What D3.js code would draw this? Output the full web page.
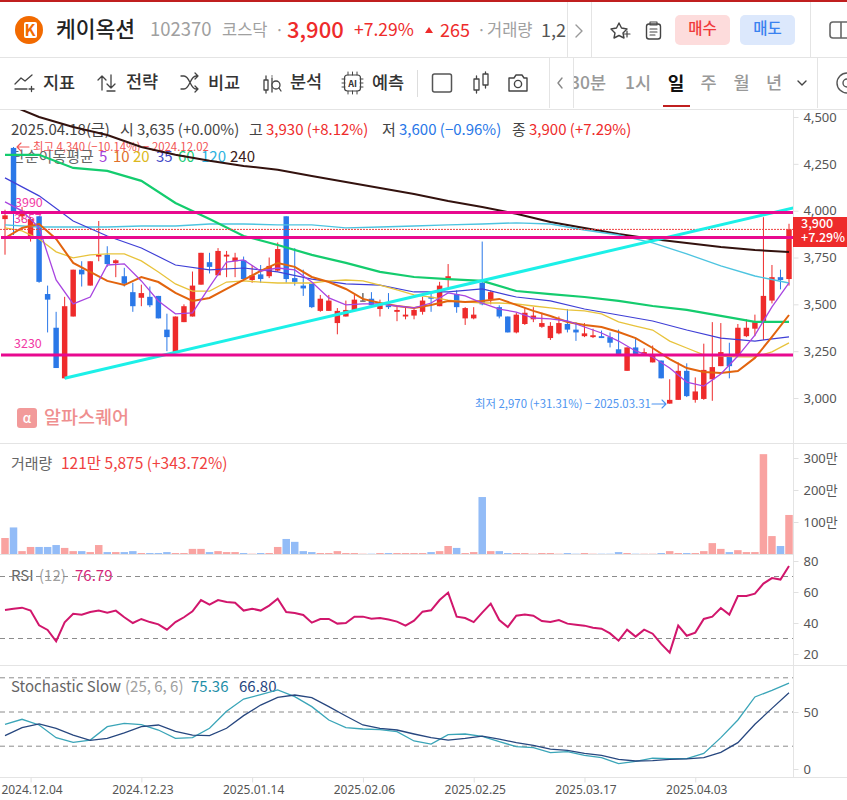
<!DOCTYPE html>
<html>
<head>
<meta charset="utf-8">
<script src="https://cdn.jsdelivr.net/npm/d3@7"></script>
<style>
  body { margin: 0; background: #fff; }
  svg { display: block; }
  text { font-family: "Noto Sans CJK KR", "Noto Sans", sans-serif; }
  .axis text { font-family: "Noto Sans", "Noto Sans CJK KR", sans-serif; }
</style>
</head>
<body>
<svg id="chart" width="847" height="800"></svg>
<script>
// daily candles, 2024.11.29 - 2025.04.18
const opens = [3955,4335,3970,3865,3970,3555,3375,3105,3435,3685,3600,3755,3765,3720,3650,3565,3535,3540,3545,3365,3245,3405,3435,3605,3725,3655,3755,3730,3735,3630,3660,3650,3680,3970,3640,3600,3610,3465,3465,3400,3435,3470,3520,3530,3475,3495,3460,3435,3440,3460,3540,3490,3630,3555,3425,3425,3615,3525,3485,3435,3350,3395,3420,3380,3320,3345,3395,3365,3330,3325,3330,3325,3260,3145,3270,3235,3190,3200,2970,2990,3145,2990,2995,3100,3170,3220,3230,3330,3370,3405,3520,3645,3635];
const highs = [4005,4340,4020,3965,3970,3600,3460,3540,3685,3730,3730,3945,3810,3740,3695,3615,3605,3595,3545,3450,3435,3500,3675,3775,3775,3800,3785,3775,3755,3710,3710,3750,3830,3970,3800,3685,3610,3550,3550,3480,3520,3550,3560,3565,3525,3560,3490,3485,3480,3540,3560,3620,3715,3575,3485,3485,3835,3575,3495,3435,3455,3480,3485,3455,3405,3435,3475,3405,3400,3370,3360,3350,3365,3270,3315,3265,3280,3200,3100,3190,3185,3110,3290,3405,3400,3295,3395,3420,3445,3965,3710,3685,3930];
const lows = [3765,3870,3950,3835,3615,3350,3160,3105,3435,3595,3600,3730,3700,3645,3595,3460,3490,3485,3425,3250,3245,3405,3435,3605,3665,3655,3645,3645,3635,3615,3615,3640,3675,3615,3600,3545,3480,3460,3465,3340,3435,3465,3520,3490,3435,3475,3410,3420,3420,3445,3460,3490,3585,3455,3390,3420,3495,3500,3425,3350,3345,3390,3405,3375,3310,3340,3350,3305,3325,3320,3320,3270,3235,3145,3235,3230,3190,3105,2970,2990,3005,2975,2990,2985,3170,3105,3230,3325,3330,3310,3505,3580,3600];
const closes = [3975,3990,4000,3955,3620,3525,3160,3490,3685,3660,3730,3765,3715,3735,3610,3490,3560,3495,3425,3325,3435,3490,3600,3775,3700,3785,3765,3750,3635,3655,3635,3705,3795,3635,3620,3585,3485,3530,3520,3465,3470,3525,3520,3495,3495,3485,3470,3445,3470,3520,3530,3600,3650,3485,3480,3445,3500,3565,3435,3350,3445,3455,3440,3400,3385,3400,3365,3350,3345,3335,3320,3295,3235,3270,3235,3245,3235,3105,2990,3145,3010,3035,3150,3165,3245,3170,3375,3375,3405,3545,3645,3630,3900];

// volume, unit 만
const volumes = [50,83,9,22,22,22,28,19,9,9,6,28,6,6,6,9,3,3,3,6,3,3,16,16,6,9,6,6,3,1,3,3,22,47,38,9,6,3,3,9,3,3,1,1,3,3,3,3,3,3,6,9,25,19,3,6,178,9,9,3,3,3,1,3,3,1,3,1,3,1,1,1,6,3,1,1,1,3,9,3,3,3,9,34,16,6,12,6,6,312,56,25,122];

// indicators
const rsi = [48.4,49.2,49.9,48,38.5,35.5,28.2,40.4,46,45.4,47.1,48,46.7,48,43.7,40,42.6,40.6,39.1,35.7,40.6,43.7,47.5,54.8,51.8,54.8,53.5,53.1,48,49.2,48,51.2,55.7,47.1,46.5,45.2,40.2,42.6,42.6,39.6,40,44.1,44.1,42.8,43.2,42.2,40.9,38.3,41.5,47.3,48.2,54.8,59.6,44.1,43.2,40.6,46.7,52.5,41.9,37.4,44.7,45.4,44.7,41.3,40.6,41.9,39.6,38.9,38.3,37,36.3,33.3,28.6,35.7,31.2,35.7,33.1,26.5,20.9,38.3,31.8,33.8,42.6,44.1,49.7,45.4,57.4,57.4,58.9,65.4,69,68,76.79];
const stochK = [39.2,43.6,38.6,27.5,23.4,25.4,37.1,40.1,38.9,34.2,26.9,27.5,35.7,50.6,61.4,65.2,69.3,63.5,54.7,43,36.3,35.1,34.5,32.7,24.6,21.9,30.1,30.7,28.7,24,19.6,18.7,14.3,15.2,12,9.9,4.7,6.7,9.6,9.1,9.1,13.7,27.5,43,63.2,69,75.36];
const stochD = [29.2,36.3,39.5,35.7,29.8,25.1,26.9,31.6,37.1,38.6,33,29.8,29.2,35.7,46.8,56.1,62.9,64.9,62.6,54.7,46.5,38.6,35.7,34.2,30.7,27.5,25.4,26.9,28.9,26.3,23.1,20.8,17.5,16.4,13.7,12,8.5,7,7.3,8.5,8.8,9.9,14.6,23.1,39.2,53.2,66.8];

// moving averages, read every 2 candles (fast) or 4 candles (slow)
const ma5 = [4047,3999,3908,3630,3502,3539,3710,3716,3625,3518,3449,3454,3593,3726,3737,3678,3694,3684,3619,3534,3497,3502,3502,3491,3481,3507,3561,3545,3507,3475,3459,3427,3422,3411,3379,3347,3304,3251,3219,3160,3085,3064,3128,3224,3336,3486,3614];
const ma10 = [3854,3908,3929,3849,3721,3673,3625,3603,3646,3619,3561,3518,3534,3582,3630,3678,3721,3700,3646,3619,3582,3529,3507,3491,3481,3497,3518,3513,3518,3529,3497,3465,3438,3406,3390,3379,3352,3320,3267,3208,3160,3139,3134,3144,3214,3326,3443];
const ma20 = [3908,3892,3849,3780,3748,3764,3769,3769,3732,3673,3609,3571,3571,3619,3625,3619,3614,3614,3614,3625,3630,3625,3603,3577,3550,3539,3523,3513,3507,3507,3502,3491,3481,3470,3465,3449,3406,3384,3363,3304,3267,3230,3224,3219,3219,3246,3294];
const ma35 = [4175,4079,3945,3865,3801,3710,3684,3694,3673,3635,3609,3603,3566,3566,3582,3539,3518,3475,3443,3411,3363,3320,3304,3326];
const ma60 = [4298,4298,4228,4212,4159,4041,3956,3865,3817,3764,3721,3673,3646,3635,3625,3571,3555,3539,3518,3491,3470,3438,3406,3406];
const ma120 = [3924,3913,3913,3913,3918,3918,3929,3929,3924,3924,3908,3913,3918,3924,3929,3935,3929,3897,3870,3828,3769,3705,3651,3614];
const ma240 = [4575,4500,4447,4404,4340,4298,4266,4239,4218,4185,4153,4121,4089,4052,4020,3983,3940,3908,3876,3849,3828,3806,3790,3780];

const priceTicks = [3000,3250,3500,3750,4000,4250,4500];
const volumeTicks = [100,200,300];
const rsiTicks = [20,40,60,80];
const stochTicks = [0,50];
const dateTickIdx = [3,16,29,42,55,68,81];
const dateTickLabels = ['2024.12.04','2024.12.23','2025.01.14','2025.02.06','2025.02.25','2025.03.17','2025.04.03'];

// hand drawn levels on the chart
const levelPrices = [3990,3857,3230];
const levelLabels = ['3990','3857','3230'];
const trendIdx = [7,92.5];
const trendPrices = [3105,4015];

const RED = '#ee2b2b';
const BLUE = '#2a78e8';
const GRAY = '#666';

const svg = d3.select('#chart');
const slowIdx = d3.range(0, 93, 4);
const fastIdx = d3.range(0, 93, 2);

const x = d3.scaleLinear().domain([0, 92]).range([5, 789]);
const yPrice = d3.scaleLinear().domain([3000, 4500]).range([398, 117]);
const yVol = d3.scaleLinear().domain([0, 300]).range([554, 458]);
const yRsi = d3.scaleLinear().domain([20, 80]).range([654, 561]);
const yStoch = d3.scaleLinear().domain([0, 50]).range([769, 712]);

const label = (parent, px, py, str, size, fill, weight, anchor) =>
  parent
    .append('text')
    .attr('x', px)
    .attr('y', py)
    .attr('font-size', size)
    .attr('fill', fill)
    .attr('font-weight', weight || 400)
    .attr('text-anchor', anchor || 'start')
    .text(str);

const icon = (d, sw, color) =>
  svg
    .append('path')
    .attr('d', d)
    .attr('fill', 'none')
    .attr('stroke', color || '#444')
    .attr('stroke-width', sw || 1.4)
    .attr('stroke-linecap', 'round')
    .attr('stroke-linejoin', 'round');

const hline = (y0, x0, x1) =>
  svg.append('line').attr('x1', x0).attr('x2', x1).attr('y1', y0).attr('y2', y0).attr('stroke', '#e4e4e4').attr('stroke-width', 1);
const vline = (x0, y0, y1) =>
  svg.append('line').attr('x1', x0).attr('x2', x0).attr('y1', y0).attr('y2', y1).attr('stroke', '#e4e4e4').attr('stroke-width', 1);

// ---- header ----
svg.append('rect').attr('width', 847).attr('height', 2).attr('fill', '#c01f1f');
hline(57.5, 0, 847);
hline(109.5, 0, 847);

svg.append('circle').attr('cx', 29).attr('cy', 30).attr('r', 14).attr('fill', '#f26a00');
svg.append('rect').attr('x', 24).attr('y', 22).attr('width', 13).attr('height', 16).attr('rx', 2).attr('fill', '#fff');
label(svg, 30, 36, 'K', 16, '#f26a00', 700, 'middle');

svg.append('clipPath').attr('id', 'headClip').append('rect').attr('width', 567).attr('height', 57);
const head = svg.append('g').attr('clip-path', 'url(#headClip)');
label(head, 56, 37, '케이옥션', 21.5, '#222', 500);
label(head, 150, 36, '102370', 18.5, '#a0a0a0');
label(head, 222, 36, '코스닥', 16.5, '#a0a0a0');
label(head, 275, 36, '·', 16, '#a0a0a0');
label(head, 287, 38, '3,900', 22, RED, 500);
label(head, 354, 36, '+7.29%', 17.5, RED);
head.append('path').attr('d', 'M425 33 L429 27 L433 33 Z').attr('fill', RED);
label(head, 440, 37, '265', 18, RED);
label(head, 477, 36, '·', 16, '#a0a0a0');
label(head, 487, 36, '거래량', 16.5, '#a0a0a0');
label(head, 541, 37, '1,215,875', 18, '#555');

vline(567.5, 2, 57);
vline(591.5, 2, 57);
vline(810.5, 2, 57);
icon('M576 25 L582 31 L576 37', 1.4, '#999');
icon('M619 23 L621.5 28 L627 29 L623 33 L624 38 L619 35.5 L614 38 L615 33 L611 29 L616.5 28 Z', 1.4);
icon('M624 34 h6 M627 31 v6', 1.2);
svg.append('rect').attr('x', 646.5).attr('y', 24).attr('width', 14).attr('height', 15).attr('rx', 2.5).attr('fill', 'none').attr('stroke', '#444').attr('stroke-width', 1.4);
icon('M650 22 h7 v3 h-7 Z M650 29 h7 M650 32 h7 M650 35 h5', 1.1);

svg.append('rect').attr('x', 675).attr('y', 15).attr('width', 55).attr('height', 30).attr('rx', 5).attr('fill', '#fddcdc');
label(svg, 702.5, 34, '매수', 15.5, '#f03a3a', 500, 'middle');
svg.append('rect').attr('x', 740).attr('y', 15).attr('width', 55).attr('height', 30).attr('rx', 5).attr('fill', '#dce8fc');
label(svg, 767.5, 34, '매도', 15.5, '#3a82f0', 500, 'middle');
svg.append('rect').attr('x', 830).attr('y', 22).attr('width', 24).attr('height', 16).attr('rx', 3).attr('fill', 'none').attr('stroke', '#666').attr('stroke-width', 1.6);
vline(841, 22, 38).attr('stroke', '#666').attr('stroke-width', 1.6);

// ---- toolbar ----
const toolFont = 17.5;
icon('M15 84 L21 78 L25 81 L32 75 M15 89 H27 M29 89 h5 M31.5 86.5 v5', 1.3);
label(svg, 43, 89, '지표', toolFont, '#333', 500);
icon('M102 90 V76 M98 80 L102 76 L106 80 M111 75 V88 M107 84 L111 88 L115 84 M107 91 H115', 1.3);
label(svg, 126, 88, '전략', toolFont, '#333', 500);
icon('M181 76 H184 C190 76 190 89 196 89 H198 M181 89 H184 C190 89 190 76 196 76 H198 M195 73 L198 76 L195 79 M195 86 L198 89 L195 92', 1.3);
label(svg, 208, 89, '비교', toolFont, '#333', 500);
icon('M264 80 h4 v10 h-4 Z M266 76 v4 M266 90 v3 M272 76 h0 M272 78 v14', 1.3);
svg.append('circle').attr('cx', 276).attr('cy', 85).attr('r', 4).attr('fill', '#fff').attr('stroke', '#444').attr('stroke-width', 1.3);
icon('M279 88 l2 3', 1.3);
label(svg, 290, 88, '분석', toolFont, '#333', 500);
svg.append('rect').attr('x', 344.5).attr('y', 75).attr('width', 16).attr('height', 16).attr('rx', 3).attr('fill', 'none').attr('stroke', '#444').attr('stroke-width', 1.2);
icon('M348 72 v3 M352.5 72 v3 M357 72 v3 M348 91 v3 M352.5 91 v3 M357 91 v3 M342 79 h3 M342 83 h3 M342 87 h3 M360 79 h3 M360 83 h3 M360 87 h3', 1);
label(svg, 352.5, 87, 'AI', 9, '#333', 700, 'middle');
label(svg, 372, 89, '예측', toolFont, '#333', 500);
vline(417.5, 70, 97).attr('stroke', '#ddd');
svg.append('rect').attr('x', 432.5).attr('y', 74).attr('width', 19).attr('height', 18).attr('rx', 2).attr('fill', 'none').attr('stroke', '#555').attr('stroke-width', 1.5);
icon('M474 79 h5 v11 h-5 Z M476.5 76 v3 M476.5 90 v3 M483 74 h5 v11 h-5 Z M485.5 72 v2 M485.5 85 v3', 1.3);
icon('M509 78 h5 l2 -3 h6 l2 3 h3 v13 h-18 Z', 1.4);
svg.append('circle').attr('cx', 518).attr('cy', 84).attr('r', 3.6).attr('fill', 'none').attr('stroke', '#444').attr('stroke-width', 1.4);

label(svg, 570, 89, '30분', toolFont, '#999', 500);
svg.append('rect').attr('x', 550).attr('y', 60).attr('width', 24).attr('height', 49).attr('fill', '#fff');
vline(549.5, 58, 108);
vline(573.5, 58, 108);
icon('M562 78 L558 83 L562 88', 1.4, '#888');
label(svg, 625, 89, '1시', toolFont, '#999', 500);
label(svg, 676, 90, '일', 18, '#111', 700, 'middle');
svg.append('rect').attr('x', 663).attr('y', 105).attr('width', 27).attr('height', 2).attr('fill', '#c01f1f');
label(svg, 708.5, 89, '주', toolFont, '#999', 500, 'middle');
label(svg, 741.5, 89, '월', toolFont, '#999', 500, 'middle');
label(svg, 774, 89, '년', toolFont, '#999', 500, 'middle');
icon('M798 81 L802 85 L806 81', 1.4);
vline(817.5, 58, 108);
svg.append('circle').attr('cx', 847).attr('cy', 83).attr('r', 10).attr('fill', 'none').attr('stroke', '#555').attr('stroke-width', 1.4);
svg.append('circle').attr('cx', 847).attr('cy', 83).attr('r', 4).attr('fill', 'none').attr('stroke', '#555').attr('stroke-width', 1.4);

// ---- pane frames ----
hline(443.5, 0, 847);
hline(554.5, 0, 793);
hline(665.5, 0, 847);
hline(777.5, 0, 847);
vline(793.5, 110, 778);

// ---- price pane legends (under the marks) ----
const ohlcRow = [
  [11, '2025.04.18(금)', '#444'], [120, '시', '#444'], [137, '3,635 (+0.00%)', '#444'],
  [249, '고', '#444'], [266, '3,930 (+8.12%)', RED], [382, '저', '#444'], [399, '3,600 (−0.96%)', BLUE],
  [512, '종', '#444'], [529, '3,900 (+7.29%)', RED]
];
ohlcRow.forEach((d) => label(svg, d[0], 135, d[1], 15, d[2]));

label(svg, 33, 151, '최고 4,340 (−10.14%) − 2024.12.02', 11.4, '#f25555');
icon('M29 147 H17 M21 143 L17 147 L21 151', 1.1, '#f25555');

const maLegend = [
  [11, '단순이동평균', GRAY], [99, '5', '#a33fd8'], [113, '10', '#e0702a'], [133, '20', '#dcb820'],
  [156, '35', '#3f49c8'], [178, '60', '#22cc77'], [201, '120', '#2db2e0'], [230, '240', '#3b2020']
];
maLegend.forEach((d) => label(svg, d[0], 162, d[1], 15, d[2]));

const levelLabelDy = [-6, -7, -7];
levelPrices.forEach((p, i) => {
  label(svg, i === 0 ? 15 : 14, yPrice(p) + levelLabelDy[i] - (i === 1 ? 7 : 0), levelLabels[i], 12.5, '#f23ba5');
});

// watermark
svg.append('rect').attr('x', 17).attr('y', 408).attr('width', 20).attr('height', 20).attr('rx', 3).attr('fill', '#f29a9a');
label(svg, 27, 423, 'α', 13, '#fff', 500, 'middle');
label(svg, 44, 424, '알파스퀘어', 18.5, '#ef8f8f', 500);

label(svg, 475, 408, '최저 2,970 (+31.31%) − 2025.03.31', 11.4, '#4d94f0');
icon('M652 404 H666 M662 400 L666 404 L662 408', 1.1, '#4d94f0');

// ---- candles ----
const candleColor = (i) => (closes[i] > opens[i] ? RED : closes[i] < opens[i] ? BLUE : '#222');
const idx = d3.range(opens.length);
const stepW = x(1) - x(0);

const pricePane = svg.append('g');
svg.append('clipPath').attr('id', 'priceClip').append('rect').attr('x', 0).attr('y', 110).attr('width', 793).attr('height', 333);
pricePane.attr('clip-path', 'url(#priceClip)');

pricePane
  .selectAll('.wick')
  .data(idx)
  .join('line')
  .attr('class', 'wick')
  .attr('x1', (i) => x(i))
  .attr('x2', (i) => x(i))
  .attr('y1', (i) => yPrice(highs[i]))
  .attr('y2', (i) => yPrice(lows[i]))
  .attr('stroke', candleColor)
  .attr('stroke-width', 1);

pricePane
  .selectAll('.body')
  .data(idx)
  .join('rect')
  .attr('class', 'body')
  .attr('x', (i) => x(i) - stepW * 0.32)
  .attr('width', stepW * 0.64)
  .attr('y', (i) => yPrice(Math.max(opens[i], closes[i])))
  .attr('height', (i) => Math.max(1, Math.abs(yPrice(opens[i]) - yPrice(closes[i]))))
  .attr('fill', candleColor);

// ---- moving averages ----
const maSeries = [
  [ma240, slowIdx, '#33120e', 2],
  [ma120, slowIdx, '#4dc4e0', 1.4],
  [ma60, slowIdx, '#14cc6e', 2.2],
  [ma35, slowIdx, '#3f3fd6', 1.2],
  [ma20, fastIdx, '#e8c33c', 1.3],
  [ma10, fastIdx, '#e2640e', 2],
  [ma5, fastIdx, '#a845e0', 1.3]
];
const priceLine = d3
  .line()
  .x((d) => x(d[0]))
  .y((d) => yPrice(d[1]));

maSeries.forEach((s) => {
  pricePane
    .append('path')
    .attr('d', priceLine(s[1].map((i, k) => [i, s[0][k]])))
    .attr('fill', 'none')
    .attr('stroke', s[2])
    .attr('stroke-width', s[3]);
});

// last price dotted line
pricePane
  .append('line')
  .attr('x1', 0)
  .attr('x2', 793)
  .attr('y1', yPrice(closes[92]))
  .attr('y2', yPrice(closes[92]))
  .attr('stroke', '#f04040')
  .attr('stroke-width', 1)
  .attr('stroke-dasharray', '2,1');

// trend line and levels
pricePane
  .append('path')
  .attr('d', priceLine(trendIdx.map((i, k) => [i, trendPrices[k]])))
  .attr('fill', 'none')
  .attr('stroke', '#1cf0e8')
  .attr('stroke-width', 3);

pricePane
  .selectAll('.level')
  .data(levelPrices)
  .join('line')
  .attr('class', 'level')
  .attr('x1', 1)
  .attr('x2', 793)
  .attr('y1', (d) => yPrice(d))
  .attr('y2', (d) => yPrice(d))
  .attr('stroke', '#e8098f')
  .attr('stroke-width', 3);

// ---- volume ----
label(svg, 11, 469, '거래량', 15, GRAY);
label(svg, 61, 469, '121만 5,875 (+343.72%)', 15.5, '#f04040');

svg
  .selectAll('.vol')
  .data(idx)
  .join('rect')
  .attr('class', 'vol')
  .attr('x', (i) => x(i) - stepW * 0.44)
  .attr('width', stepW * 0.88)
  .attr('y', (i) => yVol(volumes[i]))
  .attr('height', (i) => yVol(0) - yVol(volumes[i]))
  .attr('fill', (i) => (closes[i] >= opens[i] ? '#f9a3a1' : '#93bcf7'));

// ---- RSI ----
const dashed = (y0) =>
  svg
    .append('line')
    .attr('x1', 0)
    .attr('x2', 793)
    .attr('y1', y0)
    .attr('y2', y0)
    .attr('stroke', '#8c8c8c')
    .attr('stroke-width', 1)
    .attr('stroke-dasharray', '5,4');

label(svg, 11, 581, 'RSI', 15, GRAY);
label(svg, 39, 581, '(12)', 15, '#a0a0a0');
label(svg, 75, 581, '76.79', 15, '#d5257a');
dashed(yRsi(70));
dashed(yRsi(30));

svg
  .append('path')
  .attr('d', d3.line().x((d, i) => x(i)).y((d) => yRsi(d))(rsi))
  .attr('fill', 'none')
  .attr('stroke', '#d1166c')
  .attr('stroke-width', 2);

// ---- Stochastic ----
label(svg, 11, 692, 'Stochastic Slow', 15, GRAY);
label(svg, 125, 692, '(25, 6, 6)', 15, '#a0a0a0');
label(svg, 191, 692, '75.36', 15, '#1f8fa8');
label(svg, 239, 692, '66.80', 15, '#27477f');
dashed(yStoch(80));
dashed(yStoch(50));
dashed(yStoch(20));

const stochLine = d3
  .line()
  .x((d, k) => x(fastIdx[k]))
  .y((d) => yStoch(d));
svg.append('path').attr('d', stochLine(stochK)).attr('fill', 'none').attr('stroke', '#3aa5b8').attr('stroke-width', 1.3);
svg.append('path').attr('d', stochLine(stochD)).attr('fill', 'none').attr('stroke', '#27477f').attr('stroke-width', 1.3);

// ---- axes ----
const styleAxis = (g) => {
  g.select('.domain').remove();
  g.selectAll('line').attr('stroke', '#e0e0e0');
  g.selectAll('text').attr('fill', '#555').attr('font-size', 13);
};

const rightAxis = (scale, ticks, fmt) =>
  svg
    .append('g')
    .attr('class', 'axis')
    .attr('transform', 'translate(793.5,0)')
    .call(d3.axisRight(scale).tickValues(ticks).tickSize(5).tickPadding(5).tickFormat(fmt))
    .call(styleAxis);

rightAxis(yPrice, priceTicks, d3.format(','));
rightAxis(yVol, volumeTicks, (d) => d + '만');
rightAxis(yRsi, rsiTicks, (d) => d);
rightAxis(yStoch, stochTicks, (d) => d);

svg
  .append('g')
  .attr('class', 'axis')
  .attr('transform', 'translate(0,777.5)')
  .call(
    d3
      .axisBottom(x)
      .tickValues(dateTickIdx)
      .tickSize(5)
      .tickPadding(3)
      .tickFormat((d) => dateTickLabels[dateTickIdx.indexOf(d)])
  )
  .call(styleAxis)
  .call((g) => g.selectAll('text').attr('font-size', 12).attr('dx', 1));

// ---- last price tag ----
svg.append('rect').attr('x', 793).attr('y', 217).attr('width', 54).attr('height', 30).attr('fill', RED);
label(svg, 801, 228, '3,900', 12.5, '#fff', 500);
label(svg, 801, 242, '+7.29%', 12.5, '#fff', 500);
</script>
</body>
</html>
